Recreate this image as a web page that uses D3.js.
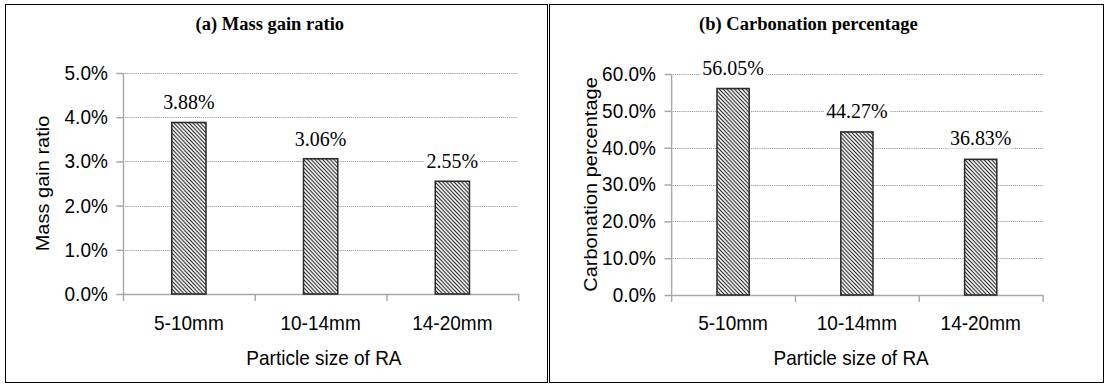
<!DOCTYPE html>
<html>
<head>
<meta charset="utf-8">
<script src="https://cdn.jsdelivr.net/npm/d3@7"></script>
<style>
  body { margin: 0; background: #fff; }
  svg { display: block; }
</style>
</head>
<body>
<div class="chart-container"></div>
<script>
// Data ------------------------------------------------------------------------------------------------------
const categories = ["5-10mm", "10-14mm", "14-20mm"];
const massGainRatio = [3.88, 3.06, 2.55];
const carbonationPercentage = [56.05, 44.27, 36.83];
const massGainTicks = [0, 1, 2, 3, 4, 5];
const carbonationTicks = [0, 10, 20, 30, 40, 50, 60];
const xAxisTitle = "Particle size of RA";

// Panel layout ----------------------------------------------------------------------------------------------
// frames are in page pixels, the rest sits in a group squeezed horizontally (like the source image)
const squeeze = 0.95;
const panels = [
    {frame: [5.5, 4.5, 542, 378], title: "(a) Mass gain ratio", titleX: 284, yTitle: "Mass gain ratio",
     values: massGainRatio, ticks: massGainTicks,
     left: 129.5, right: 545.5, top: 73, bottom: 294, yTitleX: 52, xTitleX: 341, labelGap: 13},
    {frame: [549.5, 4.5, 554, 378], title: "(b) Carbonation percentage", titleX: 851, yTitle: "Carbonation percentage",
     values: carbonationPercentage, ticks: carbonationTicks,
     left: 706.5, right: 1097.5, top: 74, bottom: 295, yTitleX: 628, xTitleX: 896, labelGap: 14}
];

const sans = "'Liberation Sans', Arial, sans-serif",
      serif = "'Liberation Serif', 'Times New Roman', serif";

// SVG -------------------------------------------------------------------------------------------------------
const svg = d3.select(".chart-container").append("svg")
.attr("width", 1107)
.attr("height", 385);

// Hatch pattern for the bars
const pattern = svg.append("defs").append("pattern")
.attr("id", "hatch")
.attr("patternUnits", "userSpaceOnUse")
.attr("width", 4)
.attr("height", 4);

pattern.append("rect")
.attr("width", 4)
.attr("height", 4)
.attr("fill", "#fff");

pattern.append("path")
.attr("d", "M-1,-1 L5,5 M-1,3 L1,5 M3,-1 L5,1")
.attr("stroke", "#1a1a1a")
.attr("stroke-width", 1.1);

const frames = svg.append("g");
const chart = svg.append("g").attr("transform", `scale(${squeeze},1)`);

// Draw panels -----------------------------------------------------------------------------------------------
const drawPanel = p => {
    // Frame
    frames.append("rect")
    .attr("x", p.frame[0])
    .attr("y", p.frame[1])
    .attr("width", p.frame[2])
    .attr("height", p.frame[3])
    .attr("fill", "none")
    .attr("stroke", "#000")
    .attr("stroke-width", 1);

    const g = chart.append("g");

    // Title
    g.append("text")
    .attr("x", p.titleX)
    .attr("y", 30)
    .attr("text-anchor", "middle")
    .style("font-family", serif)
    .style("font-weight", "bold")
    .style("font-size", "19.5px")
    .text(p.title);

    // Scales
    const x = d3.scaleBand()
    .domain(categories)
    .range([p.left, p.right])
    .paddingInner(0.74)
    .paddingOuter(0.37);

    const xBounds = d3.scaleLinear()
    .domain([0, categories.length])
    .range([p.left, p.right]);

    const y = d3.scaleLinear()
    .domain([0, d3.max(p.ticks)])
    .range([p.bottom, p.top]);

    // Gridlines
    g.append("g")
    .selectAll("line")
    .data(p.ticks.filter(t => t > 0))
    .join("line")
    .attr("x1", p.left)
    .attr("x2", p.right)
    .attr("y1", d => Math.round(y(d)) + 0.5)
    .attr("y2", d => Math.round(y(d)) + 0.5)
    .attr("stroke", "#8a8a8a")
    .attr("stroke-width", 1)
    .attr("stroke-dasharray", "1,1");

    // Y Axis
    const yAxis = g.append("g")
    .attr("transform", `translate(${p.left},0)`)
    .call(d3.axisLeft(y)
        .tickValues(p.ticks)
        .tickSize(7)
        .tickSizeOuter(0)
        .tickPadding(9)
        .tickFormat(d => d.toFixed(1) + "%"));

    // X Axis (ticks between categories)
    const xAxis = g.append("g")
    .attr("transform", `translate(0,${p.bottom})`)
    .call(d3.axisBottom(xBounds)
        .tickValues(d3.range(categories.length + 1))
        .tickSize(7)
        .tickSizeOuter(0)
        .tickFormat(""));

    [yAxis, xAxis].forEach(a => {
        a.select(".domain").attr("stroke", "#a8a8a8").attr("stroke-width", 1.5);
        a.selectAll(".tick line").attr("stroke", "#a8a8a8").attr("stroke-width", 1.5);
    });

    yAxis.selectAll(".tick text")
    .attr("fill", "#000")
    .style("font-family", sans)
    .style("font-size", "20px");

    // Category labels
    g.append("g")
    .selectAll("text")
    .data(categories)
    .join("text")
    .attr("x", d => x(d) + x.bandwidth() / 2)
    .attr("y", 330)
    .attr("text-anchor", "middle")
    .style("font-family", sans)
    .style("font-size", "20px")
    .text(d => d);

    // Axis titles
    g.append("text")
    .attr("x", p.xTitleX)
    .attr("y", 365)
    .attr("text-anchor", "middle")
    .style("font-family", sans)
    .style("font-size", "20px")
    .text(xAxisTitle);

    g.append("text")
    .attr("transform", `translate(${p.yTitleX},${(p.top + p.bottom) / 2}) rotate(-90)`)
    .attr("text-anchor", "middle")
    .style("font-family", sans)
    .style("font-size", "20px")
    .text(p.yTitle);

    // Bars
    const data = categories.map((c, i) => ({cat: c, value: p.values[i]}));

    g.append("g")
    .selectAll("rect")
    .data(data)
    .join("rect")
    .attr("x", d => x(d.cat))
    .attr("y", d => y(d.value))
    .attr("width", x.bandwidth())
    .attr("height", d => y(0) - y(d.value))
    .attr("fill", "url(#hatch)")
    .attr("stroke", "#2b2b2b")
    .attr("stroke-width", 1.6);

    // Value labels with white backing
    const labels = g.append("g")
    .selectAll("g")
    .data(data)
    .join("g");

    const labelText = labels.append("text")
    .attr("x", d => x(d.cat) + x.bandwidth() / 2)
    .attr("y", d => y(d.value) - p.labelGap)
    .attr("text-anchor", "middle")
    .style("font-family", serif)
    .style("font-size", "21px")
    .text(d => d.value.toFixed(2) + "%");

    labelText.each(function() {
        const box = this.getBBox();
        d3.select(this.parentNode).insert("rect", "text")
        .attr("x", box.x - 2)
        .attr("y", box.y + 2)
        .attr("width", box.width + 4)
        .attr("height", box.height - 3)
        .attr("fill", "#fff");
    });
};

panels.forEach(drawPanel);
</script>
</body>
</html>
